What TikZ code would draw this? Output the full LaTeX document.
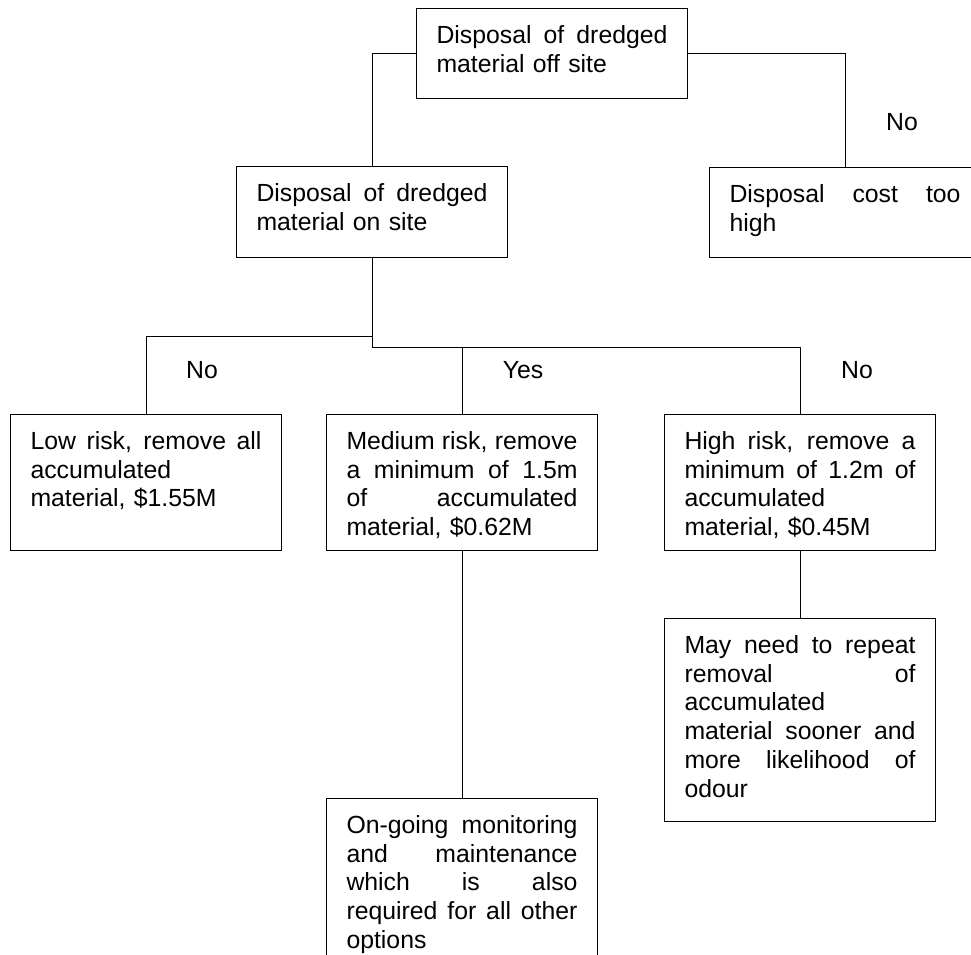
\documentclass[tikz,border=0pt]{standalone}
\usepackage{fontspec}
\usepackage{tikz}
\usetikzlibrary{positioning}
\newfontfamily\treefont{Liberation Sans}
\hbadness=10000
\newlength{\boxtext}
\setlength{\boxtext}{231pt}
\tikzset{
	block/.style  = {draw, line width=1pt, rectangle, anchor=north west,
		text width=\boxtext, inner xsep=20pt, inner ysep=0pt, align=left,
		text height=35pt},
	label/.style  = {inner sep=0pt}
}
% one justified line of a box
\newcommand{\jline}[1]{\leavevmode\hbox to\boxtext{\spaceskip=.278em plus 1fil\relax #1}\\}

\begin{document}
\begin{tikzpicture}[x=1pt, y=-1pt, line width=1pt,
	font=\treefont\fontsize{24.8}{28.7}\selectfont]

	\clip (0,0) rectangle (971,954);

	\draw
	node at (416,8)   [block, text depth=55pt]  (offsite) {\jline{Disposal of dredged}material off site}
	node at (236,166) [block, text depth=56pt]  (onsite)  {\jline{Disposal of dredged}material on site}
	node at (709,167) [block, text depth=55pt]  (cost)    {\jline{Disposal cost too}high}
	node at (10,414)  [block, text depth=101pt] (low)     {\jline{Low risk, remove all}accumulated\\material, \$1.55M}
	node at (326,414) [block, text depth=101pt] (medium)  {\jline{Medium risk, remove}\jline{a minimum of 1.5m}\jline{of accumulated}material, \$0.62M}
	node at (664,414) [block, text depth=101pt] (high)    {\jline{High risk, remove a}\jline{minimum of 1.2m of}accumulated\\material, \$0.45M}
	node at (664,618) [block, text depth=168pt] (repeat)  {\jline{May need to repeat}\jline{removal of}accumulated\\\jline{material sooner and}\jline{more likelihood of}odour}
	node at (326,798) [block, text depth=190pt] (monitor) {\jline{On-going monitoring}\jline{and maintenance}\jline{which is also}\jline{required for all other}options};

	\coordinate (j1) at (onsite.south |- 0,336);
	\coordinate (j2) at (onsite.south |- 0,347);

	\draw (offsite.west) -| (onsite.north);
	\draw (offsite.east) -| (cost.north);
	\draw (onsite.south) -- (j2);
	\draw (j1) -| (low.north);
	\draw (j2) -| (high.north);
	\draw (medium.north) -- (medium.north |- j2);
	\draw (medium.south) -- (monitor.north);
	\draw (high.south) -- (repeat.north);

	\draw
	node at (902,122) [label] (nocost) {No}
	node at (202,370) [label] (nolow)  {No}
	node at (523,370) [label] (yesmed) {Yes}
	node at (857,370) [label] (nohigh) {No};

\end{tikzpicture}
\end{document}
